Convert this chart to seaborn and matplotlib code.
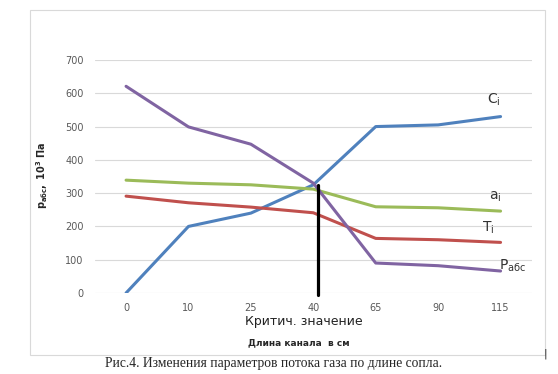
import pandas as pd
import matplotlib.pyplot as plt
import seaborn as sns
from matplotlib.patches import Rectangle

# длина канала, см (категории по оси X)
lengths = ['0', '10', '25', '40', '65', '90', '115']
c_i = [0, 200, 240, 325, 500, 505, 530]
p_abs = [621, 499, 447, 330, 90, 82, 66]
a_i = [339, 330, 325, 312, 259, 256, 246]
t_i = [291, 271, 258, 241, 164, 160, 152]

series_names = ['Ci', 'ai', 'Ti', 'Pабс']
series_values = [c_i, a_i, t_i, p_abs]
colors = ['#4F81BD', '#9BBB59', '#C0504D', '#8064A2']

crit_pos = 3.08
crit_value = 325

sns.set_style("white")
plt.rcParams['font.family'] = ['DejaVu Sans']

rows = []
for name, vals in zip(series_names, series_values):
    for i, v in enumerate(vals):
        rows.append({'pos': i, 'value': v, 'series': name})
df = pd.DataFrame(rows)

fig = plt.figure(figsize=(5.58, 3.74), dpi=100)
ax = fig.add_axes([0.170, 0.2166, 0.783, 0.623])

sns.lineplot(data=df, x='pos', y='value', hue='series', hue_order=series_names,
             palette=colors, linewidth=2.2, legend=False, sort=False, ax=ax)

ax.set_xlim(-0.5, len(lengths) - 0.5)
ax.set_ylim(0, 700)
ax.set_yticks(range(0, 701, 100))
ax.set_xticks(range(len(lengths)))
ax.set_xticklabels(lengths)
ax.yaxis.grid(True, color='#D9D9D9', linewidth=0.8)
ax.xaxis.grid(False)
for s in ax.spines.values():
    s.set_visible(False)
ax.tick_params(axis='both', length=0, labelsize=7, labelcolor='#595959')
ax.tick_params(axis='x', pad=7)
ax.tick_params(axis='y', pad=8)
ax.set_xlabel('')
ax.set_ylabel('')

# критическое значение
ax.plot([crit_pos, crit_pos], [-6, crit_value], color='black', linewidth=2.3,
        clip_on=False, zorder=5)

# подписи кривых
ax.text(5.78, 579, r'C$_\mathregular{i}$', fontsize=10, color='#333333', va='center')
ax.text(5.81, 288, r'a$_\mathregular{i}$', fontsize=10, color='#333333', va='center')
ax.text(5.70, 195, r'T$_\mathregular{i}$', fontsize=10, color='#333333', va='center')
ax.text(5.97, 81, r'P$_\mathregular{абс}$', fontsize=10, color='#333333', va='center')

fig.text(0.545, 0.140, 'Критич. значение', fontsize=9, color='#222222',
         ha='center', va='center')
fig.text(0.535, 0.083, 'Длина канала  в см', fontsize=6.5, fontweight='bold',
         ha='center', va='center')
fig.text(0.075, 0.53, r'$\mathbf{p_{абс},\ 10^{3}\ Па}$', fontsize=7, rotation=90,
         ha='center', va='center')

fig.patches.append(Rectangle((0.0538, 0.0508), 0.923, 0.922, transform=fig.transFigure,
                             fill=False, edgecolor='#D9D9D9', linewidth=0.8))

fig.text(0.49, 0.027, 'Рис.4. Изменения параметров потока газа по длине сопла.',
         fontsize=9.8, family='Liberation Serif', ha='center', va='center')
fig.text(0.977, 0.055, '|', fontsize=8, ha='center', va='center')

fig.savefig('out.png', dpi=100)
